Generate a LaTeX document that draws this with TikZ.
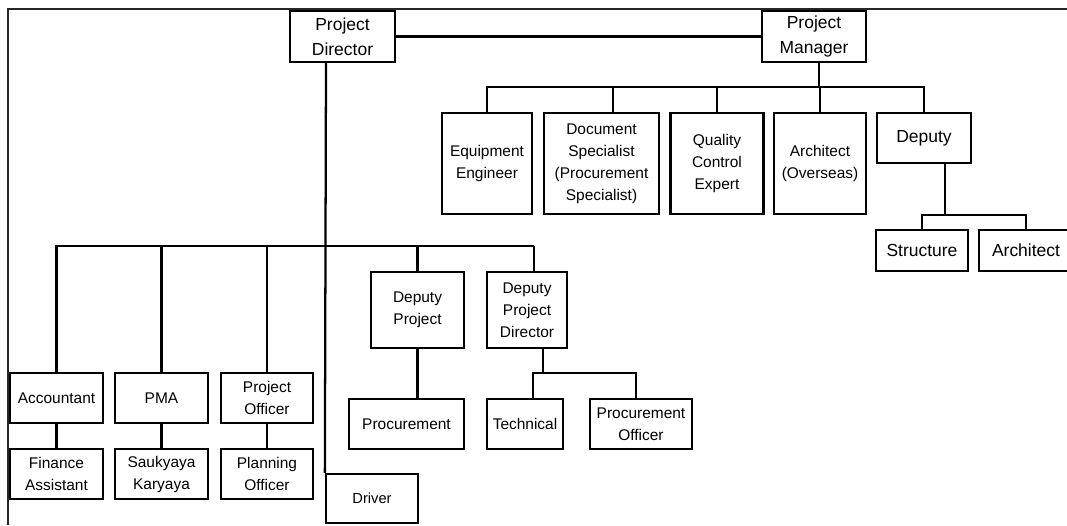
\documentclass[tikz,border=0pt]{standalone}
\usepackage{fontspec}
\setmainfont{Liberation Sans}
\begin{document}
\begin{tikzpicture}[x=0.75pt,y=-0.75pt,
  sz/.style 2 args={minimum width=#1*0.75pt, minimum height=#2*0.75pt},
  box/.style={draw, line width=1.7pt, inner sep=0pt, align=center,
    font=\fontsize{11.6}{16.5}\selectfont},
  bigbox/.style={box, font=\fontsize{13.1}{18.4}\selectfont},
  link/.style={line width=1.7pt},
  frame/.style={line width=1.4pt, black!85}]
\useasboundingbox (0,0) rectangle (1067,525);
\clip (0,0) rectangle (1067,525);

% outer frame (top and left edges)
\draw[frame] (8,525) -- (8,9) -- (1067,9);

% top level
\node[bigbox, sz={105}{51}] (pd) at (342.5,36.5) {Project\\Director};
\node[bigbox, sz={104}{51}] (pm) at (814,36.5) {Project\\Manager};

% staff under the project manager
\node[box, sz={90}{101}]  (eq)   at (487,163.5)   {Equipment\\Engineer};
\node[box, sz={115}{101}] (doc)  at (601.5,163.5) {Document\\Specialist\\(Procurement\\Specialist)};
\node[box, sz={93}{101}]  (qc)   at (717,163.5)   {Quality\\Control\\Expert};
\node[box, sz={92}{101}]  (arch) at (820,163.5)   {Architect\\(Overseas)};
\node[bigbox, sz={94}{50}] (dep) at (924,138)     {Deputy};
\node[bigbox, sz={92}{41}] (str) at (922,250.5)   {Structure};
\node[bigbox, sz={94}{41}] (arc) at (1026,250.5)  {Architect};

% staff under the project director
\node[box, sz={93}{50}]  (acc)  at (56.5,398)  {Accountant};
\node[box, sz={93}{50}]  (pma)  at (161.5,398) {PMA};
\node[box, sz={92}{50}]  (po)   at (267,398)   {Project\\Officer};
\node[box, sz={93}{50}]  (fa)   at (56.5,474)  {Finance\\Assistant};
\node[box, sz={93}{50}]  (sk)   at (161.5,474) {Saukyaya\\Karyaya};
\node[box, sz={92}{50}]  (plo)  at (267,474)   {Planning\\Officer};
\node[box, sz={93}{76}]  (dp)   at (417.5,310) {Deputy\\Project};
\node[box, sz={115}{50}] (proc) at (406.5,424) {Procurement};
\node[box, sz={80}{76}]  (dpd)  at (527,310)   {Deputy\\Project\\Director};
\node[box, sz={76}{50}]  (tech) at (525,424)   {Technical};
\node[box, sz={102}{50}] (pof)  at (641,424)   {Procurement\\Officer};
\node[box, sz={92}{49}, font=\fontsize{11}{14}\selectfont] (drv) at (372,498.5) {Driver};

% junction points
\coordinate (pmbus) at (819,87);
\coordinate (docj)  at (613,87);
\coordinate (depj)  at (945,215);
\coordinate (pdbus) at (326,246);
\coordinate (dpdj)  at (534,246);
\coordinate (dpdb)  at (543,373);
\coordinate (techj) at (533,373);
\coordinate (pofj)  at (636,373);

% director -- manager
\draw[link] (pd.east) -- (pm.west);

% manager's tree
\draw[link] (pm.south -| pmbus) -- (pmbus);
\draw[link] (eq.north) -- (eq.north |- pmbus) -| (dep.north);
\draw[link] (docj) -- (docj |- doc.north);
\draw[link] (qc.north) -- (qc.north |- pmbus);
\draw[link] (arch.north) -- (arch.north |- pmbus);
\draw[link] (dep.south -| depj) -- (depj);
\draw[link] (str.north) |- (depj) -| (arc.north);

% director's tree
\draw[link] (pd.south -| pdbus) -- (drv.north west);
\draw[link] (acc.north) -- (acc.north |- pdbus) -- (dpdj);
\draw[link] (pma.north) -- (pma.north |- pdbus);
\draw[link] (po.north) -- (po.north |- pdbus);
\draw[link] (dp.north) -- (dp.north |- pdbus);
\draw[link] (dpd.north -| dpdj) -- (dpdj);
\draw[link] (acc.south) -- (fa.north);
\draw[link] (pma.south) -- (sk.north);
\draw[link] (po.south) -- (plo.north);
\draw[link] (dp.south) -- (dp.south |- proc.north);
\draw[link] (dpd.south -| dpdb) -- (dpdb);
\draw[link] (techj |- tech.north) -- (techj) -- (pofj) -- (pofj |- pof.north);
\end{tikzpicture}
\end{document}
